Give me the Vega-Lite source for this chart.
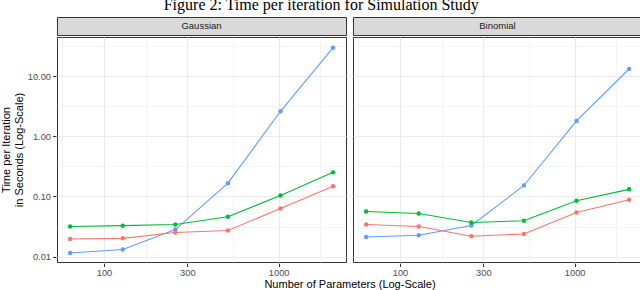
{
  "$schema": "https://vega.github.io/schema/vega-lite/v6.json",
  "background": "white",
  "padding": {"left": 0, "right": 1, "top": -4, "bottom": 0},
  "title": {"text": "Figure 2: Time per iteration for Simulation Study", "font": "Liberation Serif", "fontSize": 16, "fontWeight": "normal", "color": "#000000", "anchor": "middle", "offset": 4},
  "datasets": {
    "panels": [{"family": "Gaussian"}, {"family": "Binomial"}],
    "points": [
      {"family": "Gaussian", "method": "C", "p": 64, "time": 0.0115},
      {"family": "Gaussian", "method": "C", "p": 128, "time": 0.0131},
      {"family": "Gaussian", "method": "C", "p": 256, "time": 0.0281},
      {"family": "Gaussian", "method": "C", "p": 512, "time": 0.166},
      {"family": "Gaussian", "method": "C", "p": 1024, "time": 2.6},
      {"family": "Gaussian", "method": "C", "p": 2048, "time": 29.6},
      {"family": "Gaussian", "method": "B", "p": 64, "time": 0.0316},
      {"family": "Gaussian", "method": "B", "p": 128, "time": 0.0327},
      {"family": "Gaussian", "method": "B", "p": 256, "time": 0.0341},
      {"family": "Gaussian", "method": "B", "p": 512, "time": 0.0458},
      {"family": "Gaussian", "method": "B", "p": 1024, "time": 0.104},
      {"family": "Gaussian", "method": "B", "p": 2048, "time": 0.251},
      {"family": "Gaussian", "method": "A", "p": 64, "time": 0.0196},
      {"family": "Gaussian", "method": "A", "p": 128, "time": 0.0201},
      {"family": "Gaussian", "method": "A", "p": 256, "time": 0.0251},
      {"family": "Gaussian", "method": "A", "p": 512, "time": 0.0271},
      {"family": "Gaussian", "method": "A", "p": 1024, "time": 0.063},
      {"family": "Gaussian", "method": "A", "p": 2048, "time": 0.148},
      {"family": "Binomial", "method": "C", "p": 64, "time": 0.0212},
      {"family": "Binomial", "method": "C", "p": 128, "time": 0.0226},
      {"family": "Binomial", "method": "C", "p": 256, "time": 0.0328},
      {"family": "Binomial", "method": "C", "p": 512, "time": 0.152},
      {"family": "Binomial", "method": "C", "p": 1024, "time": 1.8},
      {"family": "Binomial", "method": "C", "p": 2048, "time": 13.1},
      {"family": "Binomial", "method": "B", "p": 64, "time": 0.0562},
      {"family": "Binomial", "method": "B", "p": 128, "time": 0.0521},
      {"family": "Binomial", "method": "B", "p": 256, "time": 0.0369},
      {"family": "Binomial", "method": "B", "p": 512, "time": 0.0393},
      {"family": "Binomial", "method": "B", "p": 1024, "time": 0.0845},
      {"family": "Binomial", "method": "B", "p": 2048, "time": 0.131},
      {"family": "Binomial", "method": "A", "p": 64, "time": 0.0341},
      {"family": "Binomial", "method": "A", "p": 128, "time": 0.0316},
      {"family": "Binomial", "method": "A", "p": 256, "time": 0.0218},
      {"family": "Binomial", "method": "A", "p": 512, "time": 0.0238},
      {"family": "Binomial", "method": "A", "p": 1024, "time": 0.0542},
      {"family": "Binomial", "method": "A", "p": 2048, "time": 0.088}
    ]
  },
  "spacing": 0,
  "vconcat": [
    {
      "data": {"name": "panels"},
      "facet": {"column": {"field": "family", "type": "nominal", "sort": ["Gaussian", "Binomial"], "title": null, "header": {"labels": false}}},
      "spacing": 5,
      "spec": {
        "width": 289,
        "height": 18,
        "view": {"fill": "#D9D9D9", "stroke": "#333333", "strokeWidth": 1},
        "mark": {"type": "text", "font": "Liberation Sans", "fontSize": 9.5, "color": "#1A1A1A", "baseline": "middle"},
        "encoding": {
          "text": {"field": "family", "type": "nominal"},
          "y": {
            "datum": "strip", "type": "nominal",
            "axis": {
              "title": [".", "."],
              "titleColor": "transparent",
              "labels": false, "ticks": false, "grid": false, "domain": false,
              "minExtent": 30, "maxExtent": 30, "titlePadding": 2
            }
          }
        }
      }
    },
    {
      "data": {"name": "points"},
      "facet": {"column": {"field": "family", "type": "nominal", "sort": ["Gaussian", "Binomial"], "title": "Number of Parameters (Log-Scale)", "header": {"labels": false, "titleOrient": "bottom", "titleBaseline": "alphabetic", "titleFont": "Liberation Sans", "titleFontSize": 11, "titleFontWeight": "normal", "titleColor": "#000000", "titlePadding": 0}}},
      "spacing": 5,
      "spec": {
        "width": 289,
        "height": 225,
        "view": {"stroke": "#333333", "strokeWidth": 1},
        "encoding": {
          "x": {
            "field": "p", "type": "quantitative",
            "scale": {"type": "log", "domain": [53.8, 2428], "nice": false},
            "axis": {
              "title": null,
              "values": [57.7, 100, 173.2, 300, 547.7, 1000, 1732.1],
              "format": "d",
              "labelExpr": "(datum.value == 100 || datum.value == 300 || datum.value == 1000) ? datum.label : ''",
              "tickColor": {"condition": {"test": "datum.value == 100 || datum.value == 300 || datum.value == 1000", "value": "#333333"}, "value": "transparent"},
              "gridWidth": {"condition": {"test": "datum.value == 100 || datum.value == 300 || datum.value == 1000", "value": 1.1}, "value": 0.55}
            }
          },
          "y": {
            "field": "time", "type": "quantitative",
            "scale": {"type": "log", "domain": [0.00813, 44.6], "nice": false, "zero": false},
            "axis": {
              "title": ["Time per Iteration", "in Seconds (Log-Scale)"],
              "values": [0.01, 0.0316, 0.1, 0.316, 1, 3.16, 10, 31.6],
              "format": ".2f",
              "labelExpr": "(datum.value == 0.01 || datum.value == 0.1 || datum.value == 1 || datum.value == 10) ? datum.label : ''",
              "tickColor": {"condition": {"test": "datum.value == 0.01 || datum.value == 0.1 || datum.value == 1 || datum.value == 10", "value": "#333333"}, "value": "transparent"},
              "gridWidth": {"condition": {"test": "datum.value == 0.01 || datum.value == 0.1 || datum.value == 1 || datum.value == 10", "value": 1.1}, "value": 0.55},
              "minExtent": 30, "maxExtent": 30,
              "titlePadding": 2
            }
          },
          "color": {
            "field": "method", "type": "nominal",
            "scale": {"domain": ["A", "B", "C"], "range": ["#F8766D", "#00BA38", "#619CFF"]},
            "legend": null
          }
        },
        "layer": [
          {"mark": {"type": "line", "strokeWidth": 1.1}},
          {"mark": {"type": "circle", "size": 20, "opacity": 1}}
        ]
      }
    }
  ],
  "config": {
    "font": "Liberation Sans",
    "axis": {
      "domain": false,
      "gridColor": "#EBEBEB",
      "labelFont": "Liberation Sans",
      "labelFontSize": 9.3,
      "labelColor": "#4D4D4D",
      "tickSize": 3.5,
      "tickWidth": 1,
      "labelPadding": 2,
      "titleFont": "Liberation Sans",
      "titleFontSize": 11,
      "titleFontWeight": "normal",
      "titleColor": "#000000"
    }
  }
}
